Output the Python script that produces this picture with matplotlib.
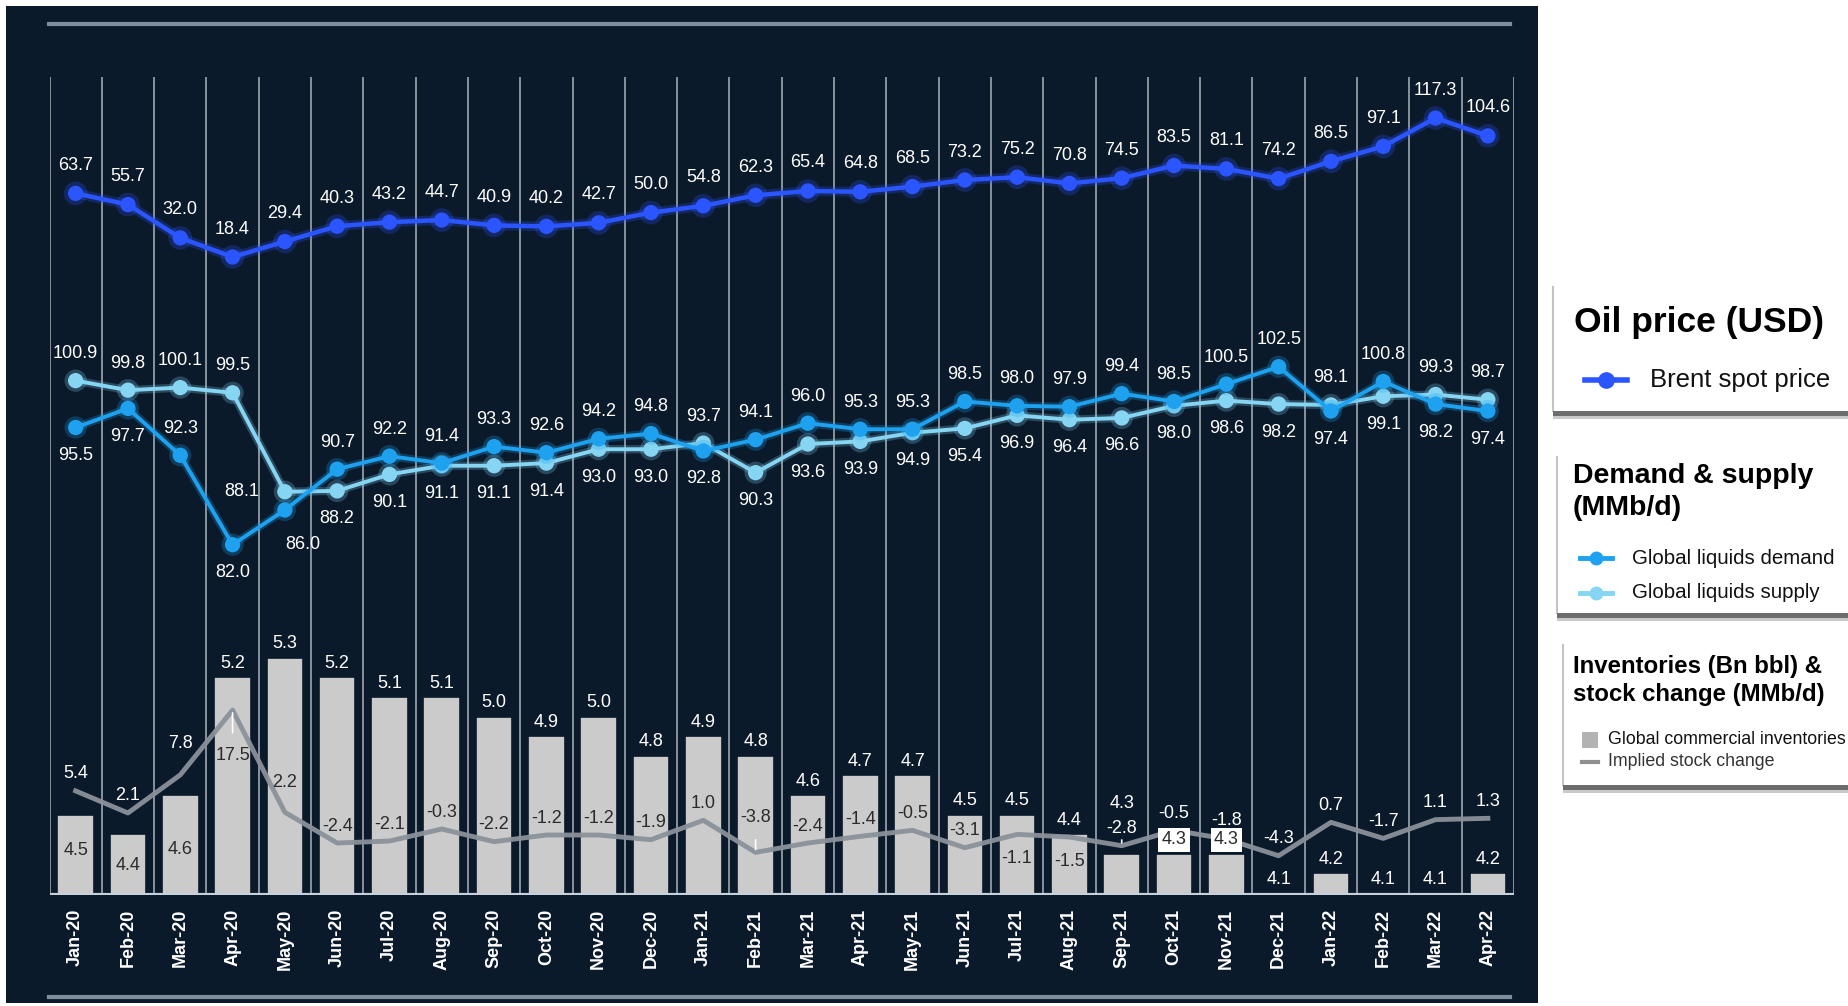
import matplotlib
matplotlib.use("Agg")
import matplotlib.pyplot as plt
import matplotlib.patheffects as pe
from matplotlib.patches import Rectangle
from matplotlib.lines import Line2D

plt.rcParams["font.family"] = ["Liberation Sans", "DejaVu Sans"]

W, H, DPI = 1849, 1006, 100

months = ["Jan-20", "Feb-20", "Mar-20", "Apr-20", "May-20", "Jun-20", "Jul-20",
          "Aug-20", "Sep-20", "Oct-20", "Nov-20", "Dec-20", "Jan-21", "Feb-21",
          "Mar-21", "Apr-21", "May-21", "Jun-21", "Jul-21", "Aug-21", "Sep-21",
          "Oct-21", "Nov-21", "Dec-21", "Jan-22", "Feb-22", "Mar-22", "Apr-22"]

brent = [63.7, 55.7, 32.0, 18.4, 29.4, 40.3, 43.2, 44.7, 40.9, 40.2, 42.7, 50.0,
         54.8, 62.3, 65.4, 64.8, 68.5, 73.2, 75.2, 70.8, 74.5, 83.5, 81.1, 74.2,
         86.5, 97.1, 117.3, 104.6]

demand = [95.5, 97.7, 92.3, 82.0, 86.0, 90.7, 92.2, 91.4, 93.3, 92.6, 94.2, 94.8,
          92.8, 94.1, 96.0, 95.3, 95.3, 98.5, 98.0, 97.9, 99.4, 98.5, 100.5, 102.5,
          97.4, 100.8, 98.2, 97.4]

supply = [100.9, 99.8, 100.1, 99.5, 88.1, 88.2, 90.1, 91.1, 91.1, 91.4, 93.0, 93.0,
          93.7, 90.3, 93.6, 93.9, 94.9, 95.4, 96.9, 96.4, 96.6, 98.0, 98.6, 98.2,
          98.1, 99.1, 99.3, 98.7]

inventories = [4.5, 4.4, 4.6, 5.2, 5.3, 5.2, 5.1, 5.1, 5.0, 4.9, 5.0, 4.8, 4.9, 4.8,
               4.6, 4.7, 4.7, 4.5, 4.5, 4.4, 4.3, 4.3, 4.3, 4.1, 4.2, 4.1, 4.1, 4.2]

stock_change = [5.4, 2.1, 7.8, 17.5, 2.2, -2.4, -2.1, -0.3, -2.2, -1.2, -1.2, -1.9,
                1.0, -3.8, -2.4, -1.4, -0.5, -3.1, -1.1, -1.5, -2.8, -0.5, -1.8, -4.3,
                0.7, -1.7, 1.1, 1.3]

BG = "#0b1a2b"
GRID = "#a9b3bd"
BRENT = "#2b55ff"
DEMAND = "#1ea2ef"
SUPPLY = "#86d5f3"
BAR = "#cbcbcb"
STOCK = "#8a9199"
DARK_TXT = "#2b2b2b"

# plot area in pixels (from top-left)
PL, PR, PT, PB = 49.5, 1514, 77, 895
INV_BASE = 4.09


def fx(px):
    return px / W


def fy(py):
    return 1 - py / H


def set_scale(ax, ref_val, ref_px, px_per_unit):
    lo = ref_val - (PB - ref_px) / px_per_unit
    hi = ref_val + (ref_px - PT) / px_per_unit
    ax.set_ylim(lo, hi)
    ax.set_xlim(-0.5, len(months) - 0.5)


def glow(color, width):
    return [pe.Stroke(linewidth=width, foreground=color, alpha=0.25), pe.Normal()]


fig = plt.figure(figsize=(W / DPI, H / DPI), dpi=DPI, facecolor="white")
fig.patches.append(Rectangle((fx(6), fy(1003)), fx(1538) - fx(6), fy(6) - fy(1003),
                             transform=fig.transFigure, facecolor=BG, edgecolor="none", zorder=-5))
for yy in (24, 997):
    fig.add_artist(Line2D([fx(49), fx(1510)], [fy(yy), fy(yy)], color="#7f8e9c", lw=3))

rect = [fx(PL), fy(PB), fx(PR) - fx(PL), (PB - PT) / H]
ax_inv = fig.add_axes(rect, facecolor="none")
ax_st = fig.add_axes(rect, facecolor="none", label="stock")
ax_ds = fig.add_axes(rect, facecolor="none", label="ds")
ax_br = fig.add_axes(rect, facecolor="none", label="brent")

set_scale(ax_inv, INV_BASE, PB, 196)
set_scale(ax_st, 0.0, 827, 6.68)
set_scale(ax_ds, 82.0, 544.7, 8.68)
set_scale(ax_br, 18.4, 257, 1.405)

x = list(range(len(months)))

# base axes: grid, bars, month labels
for s in ax_inv.spines.values():
    s.set_visible(False)
ax_inv.set_yticks([])
ax_inv.set_xticks(x)
ax_inv.set_xticklabels(months, rotation=90, color="white", fontsize=13, fontweight="bold")
ax_inv.tick_params(axis="x", length=0, pad=10)
for k in range(len(months) + 1):
    ax_inv.axvline(k - 0.5, color=GRID, lw=1.1, zorder=0.5)
ax_inv.bar(x, [v - INV_BASE for v in inventories], bottom=INV_BASE, width=0.7,
           color=BAR, edgecolor=BG, linewidth=1.2, zorder=2)
ax_inv.axhline(INV_BASE, color="#c6d1db", lw=3, zorder=3)

for a in (ax_st, ax_ds, ax_br):
    a.axis("off")

# implied stock change line
ax_st.plot(x, stock_change, color=STOCK, lw=3.5, alpha=0.95, solid_joinstyle="round", zorder=2)

# demand / supply lines
ax_ds.plot(x, supply, color=SUPPLY, lw=2.8, marker="o", ms=10, mec=SUPPLY,
           path_effects=glow(SUPPLY, 6), zorder=2)
ax_ds.plot(x, demand, color=DEMAND, lw=2.8, marker="o", ms=10, mec=DEMAND,
           path_effects=glow(DEMAND, 6), zorder=3)

# brent line
ax_br.plot(x, brent, color=BRENT, lw=3.2, marker="o", ms=10, mec=BRENT,
           path_effects=glow(BRENT, 7), zorder=3)

LBL = dict(ha="center", va="center", fontsize=13, textcoords="offset pixels")

for i, v in enumerate(brent):
    ax_br.annotate(f"{v:.1f}", (i, v), xytext=(0, 28), color="white", **LBL)

for i, (d, s) in enumerate(zip(demand, supply)):
    d_off = (0, 27) if d >= s else (0, -28)
    s_off = (0, 27) if s > d else (0, -28)
    if i == 2:
        d_off = (0, 27)
    if i == 4:
        s_off, d_off = (-43, 0), (18, -35)
    ax_ds.annotate(f"{d:.1f}", (i, d), xytext=d_off, color="white", **LBL)
    ax_ds.annotate(f"{s:.1f}", (i, s), xytext=s_off, color="white", **LBL)

st_dy = {2: 31, 3: -45, 4: 30, 13: 35, 18: -24, 19: -24, 22: 19}
leaders = {3, 13, 20}
for i, v in enumerate(stock_change):
    dy = st_dy.get(i, 17)
    lab_y = ax_st.transData.transform((i, v))[1] + dy
    top_y = ax_inv.transData.transform((i, inventories[i]))[1]
    color = DARK_TXT if lab_y < top_y - 6 else "white"
    arrow = dict(arrowstyle="-", color="white", lw=1.2, shrinkA=8, shrinkB=2) if i in leaders else None
    ax_st.annotate(f"{v:.1f}", (i, v), xytext=(0, dy), color=color, arrowprops=arrow, **LBL)

# inventory labels sit on the top layer so the boxed ones cover the stock line
inv_dy = {0: -36, 1: -31, 2: -54, 20: 50}
boxed = {21, 22}
for i, v in enumerate(inventories):
    dy = inv_dy.get(i, 14)
    kw = dict(LBL)
    if i in boxed:
        kw["bbox"] = dict(boxstyle="square,pad=0.18", facecolor="white", edgecolor="none")
    color = DARK_TXT if (dy < 0 or i in boxed) else "white"
    ax_br.annotate(f"{v:.1f}", (i, v), xycoords=ax_inv.transData, xytext=(0, dy),
                   color=color, zorder=5, **kw)


# legend panels on the right
def panel(left, top, bottom):
    fig.patches.append(Rectangle((fx(left), fy(bottom)), 1 - fx(left), fy(top) - fy(bottom),
                                 transform=fig.transFigure, facecolor="white",
                                 edgecolor="none", zorder=1))
    fig.add_artist(Line2D([fx(left), fx(left)], [fy(top), fy(bottom)], color="#c4c4c4", lw=1.5))
    fig.patches.append(Rectangle((fx(left), fy(bottom + 5)), 1 - fx(left), 5 / H,
                                 transform=fig.transFigure, facecolor="#6d6d6d",
                                 edgecolor="none", zorder=2))
    fig.patches.append(Rectangle((fx(left), fy(bottom + 8)), 1 - fx(left), 3 / H,
                                 transform=fig.transFigure, facecolor="#c9c9c9",
                                 edgecolor="none", zorder=2))


def key_line(x0, x1, yy, color, lw=4, ms=11):
    fig.add_artist(Line2D([fx(x0), fx(x1)], [fy(yy), fy(yy)], color=color, lw=lw))
    fig.add_artist(Line2D([fx((x0 + x1) / 2)], [fy(yy)], color=color, marker="o", ms=ms, mec=color))


panel(1553, 287, 411)
fig.text(fx(1574), fy(323), "Oil price (USD)", fontsize=25.5, fontweight="bold", va="center", color="black")
key_line(1585, 1627, 380, BRENT)
fig.text(fx(1650), fy(380), "Brent spot price", fontsize=18.5, va="center", color="#111111")

panel(1557, 457, 613)
fig.text(fx(1573), fy(476), "Demand & supply", fontsize=20.5, fontweight="bold", va="center", color="black")
fig.text(fx(1573), fy(508), "(MMb/d)", fontsize=20.5, fontweight="bold", va="center", color="black")
key_line(1580, 1612, 558, DEMAND, lw=3.5, ms=9)
fig.text(fx(1632), fy(558), "Global liquids demand", fontsize=14.8, va="center", color="#111111")
key_line(1580, 1612, 593, SUPPLY, lw=3.5, ms=9)
fig.text(fx(1632), fy(593), "Global liquids supply", fontsize=14.8, va="center", color="#111111")

panel(1563, 645, 785)
fig.text(fx(1573), fy(667), "Inventories (Bn bbl) &", fontsize=17.3, fontweight="bold", va="center", color="black")
fig.text(fx(1573), fy(695), "stock change (MMb/d)", fontsize=17.3, fontweight="bold", va="center", color="black")
fig.patches.append(Rectangle((fx(1582), fy(748)), 16 / W, 16 / H, transform=fig.transFigure,
                             facecolor="#b3b3b3", edgecolor="none", zorder=3))
fig.text(fx(1608), fy(740), "Global commercial inventories", fontsize=12.8, va="center", color="#111111")
fig.add_artist(Line2D([fx(1582), fx(1598)], [fy(762), fy(762)], color="#8f8f8f", lw=3))
fig.text(fx(1608), fy(762), "Implied stock change", fontsize=12.8, va="center", color="#333333")

fig.savefig("out.png", dpi=DPI, facecolor=fig.get_facecolor())
